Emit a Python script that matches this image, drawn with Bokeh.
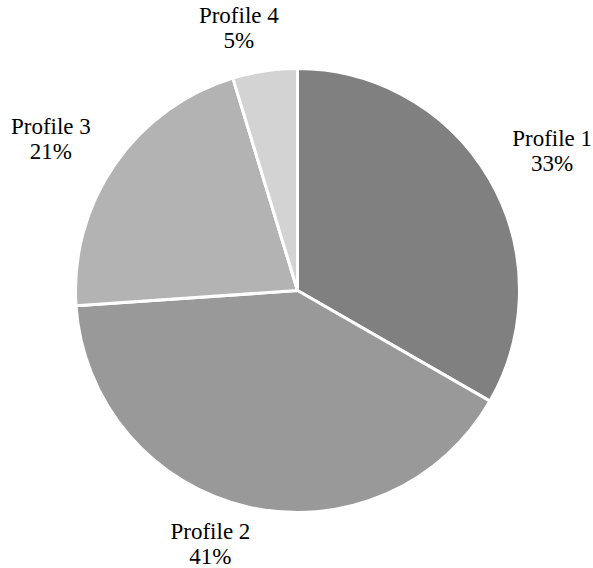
import math
from bokeh.plotting import figure
from bokeh.models import Range1d, ColumnDataSource
from bokeh.core.properties import value
from bokeh.embed import file_html
from bokeh.resources import INLINE

# Data
categories = ["Profile 1", "Profile 2", "Profile 3", "Profile 4"]
shares = [33.3, 40.6, 21.4, 4.7]
colors = ["#808080", "#999999", "#b3b3b3", "#d3d3d3"]

W, H = 593, 568
cx, cy = 297, H - 290
R = 222

total = sum(shares)
starts, ends, mids = [], [], []
cum = 0.0
for s in shares:
    a0 = math.pi / 2 - 2 * math.pi * (cum + s) / total
    a1 = math.pi / 2 - 2 * math.pi * cum / total
    starts.append(a0)
    ends.append(a1)
    mids.append((a0 + a1) / 2)
    cum += s

src = ColumnDataSource(dict(start=starts, end=ends, color=colors))

p = figure(width=W, height=H, output_backend="svg", toolbar_location=None,
           x_range=Range1d(0, W), y_range=Range1d(0, H), min_border=0)
p.axis.visible = False
p.grid.visible = False
p.outline_line_color = None
p.background_fill_color = "white"
p.border_fill_color = "white"

p.wedge(x=cx, y=cy, radius=R, start_angle="start", end_angle="end",
        direction="anticlock", fill_color="color", line_color="white",
        line_width=3, source=src)

# label placement: box adjacent to the pie edge, with small nudges
box_w, box_h, gap = 80, 50, 17
nudges = [(7, -4), (-26, 12), (-11, -11), (-19, -4)]
lx, ly, texts = [], [], []
for cat, s, m, (nx, ny) in zip(categories, shares, mids, nudges):
    c, sn = math.cos(m), math.sin(m)
    ext = abs(c) * box_w / 2 + abs(sn) * box_h / 2
    d = R + gap + ext
    lx.append(cx + d * c + nx)
    ly.append(cy + d * sn + ny)
    texts.append(f"{cat}\n{round(s / total * 100)}%")

p.text(x=lx, y=ly, text=texts, text_align="center", text_baseline="middle",
       text_font=value("'Liberation Serif', 'Times New Roman', serif"),
       text_font_size="23px", text_color="black", text_line_height=0.98)

open("out.html", "w").write(file_html(p, INLINE))
